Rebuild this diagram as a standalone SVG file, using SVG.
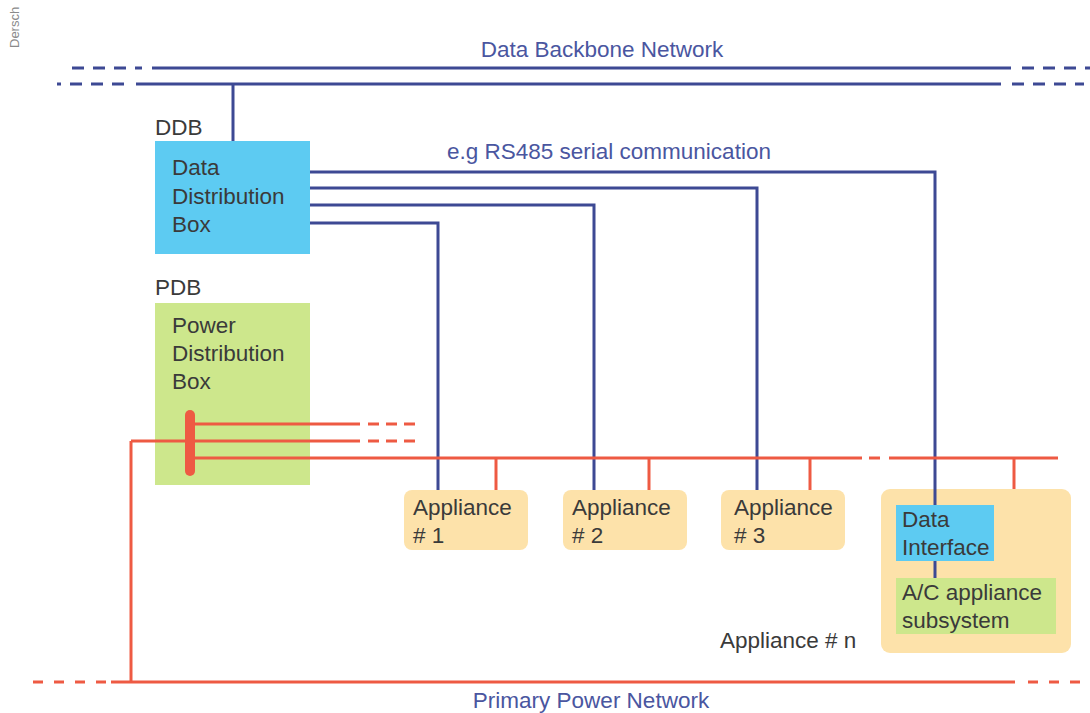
<svg xmlns="http://www.w3.org/2000/svg" width="1090" height="713" viewBox="0 0 1090 713">
  <style>
    .txt { font-family: "Liberation Sans", Arial, sans-serif; font-size: 22.5px; fill: #3a3a3a; }
    .net { font-family: "Liberation Sans", Arial, sans-serif; font-size: 22.5px; fill: #4a56a0; }
    .data { fill: none; stroke: #3d4994; stroke-width: 3; }
    .power { fill: none; stroke: #ee5a43; stroke-width: 3; }
    .dash { stroke-dasharray: 12 9; }
    .blue { fill: #5dcbf2; }
    .green { fill: #cde78c; }
    .peach { fill: #fde2aa; }
  </style>
  <rect width="1090" height="713" fill="#ffffff"/>

  <!-- author credit -->
  <text x="19" y="48" transform="rotate(-90 19 48)" font-family="Liberation Sans, Arial, sans-serif" font-size="13" fill="#8a8a8a">Dersch</text>

  <!-- network labels -->
  <text class="net" x="602" y="57" text-anchor="middle">Data Backbone Network</text>
  <text class="net" x="447" y="159">e.g RS485 serial communication</text>
  <text class="net" x="591" y="708" text-anchor="middle">Primary Power Network</text>

  <g id="ddb">
    <text class="txt" x="155" y="135">DDB</text>
    <rect class="blue" x="155" y="141" width="155" height="113"/>
    <text class="txt" x="172" y="175">Data</text>
    <text class="txt" x="172" y="204">Distribution</text>
    <text class="txt" x="172" y="232">Box</text>
  </g>

  <g id="pdb">
    <text class="txt" x="155" y="295">PDB</text>
    <rect class="green" x="155" y="303" width="155" height="182"/>
    <text class="txt" x="172" y="333">Power</text>
    <text class="txt" x="172" y="361">Distribution</text>
    <text class="txt" x="172" y="389">Box</text>
  </g>

  <g id="appliance-1">
    <rect class="peach" x="404" y="490" width="124" height="60" rx="8"/>
    <text class="txt" x="413" y="515">Appliance</text>
    <text class="txt" x="413" y="543"># 1</text>
  </g>

  <g id="appliance-2">
    <rect class="peach" x="563" y="490" width="124" height="60" rx="8"/>
    <text class="txt" x="572" y="515">Appliance</text>
    <text class="txt" x="572" y="543"># 2</text>
  </g>

  <g id="appliance-3">
    <rect class="peach" x="721" y="490" width="124" height="60" rx="8"/>
    <text class="txt" x="734" y="515">Appliance</text>
    <text class="txt" x="734" y="543"># 3</text>
  </g>

  <g id="appliance-n">
    <rect class="peach" x="881" y="489" width="190" height="164" rx="9"/>
    <rect class="blue" x="896" y="505" width="98" height="56"/>
    <text class="txt" x="902" y="527">Data</text>
    <text class="txt" x="902" y="555">Interface</text>
    <path class="data" d="M935 561 V578"/>
    <rect class="green" x="896" y="578" width="160" height="56"/>
    <text class="txt" x="902" y="600">A/C appliance</text>
    <text class="txt" x="902" y="628">subsystem</text>
    <text class="txt" x="720" y="648">Appliance # n</text>
  </g>

  <g id="connectors">
    <!-- data backbone -->
    <path class="data" d="M152 68 H1011"/>
    <path class="data dash" d="M72 68 H142"/>
    <path class="data dash" d="M1022 68 H1090"/>
    <path class="data" d="M136 84 H1001"/>
    <path class="data dash" d="M57 84 H128" style="stroke-dashoffset:8"/>
    <path class="data dash" d="M1012 84 H1084"/>
    <path class="data" d="M233 84 V141"/>

    <!-- serial links from DDB -->
    <path class="data" d="M310 172 H935 V505"/>
    <path class="data" d="M310 188 H757 V490"/>
    <path class="data" d="M310 205 H594 V490"/>
    <path class="data" d="M310 223 H438 V490"/>

    <!-- power outputs of PDB -->
    <path class="power" d="M190 424 H360"/>
    <path class="power" d="M368 424 H418" stroke-dasharray="11 7"/>
    <path class="power" d="M131 441 H360"/>
    <path class="power" d="M368 441 H418" stroke-dasharray="11 7"/>
    <path class="power" d="M190 458 H862"/>
    <path class="power" d="M869 458 H880"/>
    <path class="power" d="M889 458 H1058"/>
    <path class="power" d="M496 458 V490"/>
    <path class="power" d="M649 458 V490"/>
    <path class="power" d="M810 458 V490"/>
    <path class="power" d="M1014 458 V489"/>
    <rect x="185" y="410" width="10" height="66" rx="5" fill="#ee5a43"/>

    <!-- primary power network -->
    <path class="power" d="M131 441 V682"/>
    <path class="power" d="M111 682 H1015"/>
    <path class="power" d="M33 682 H108" stroke-dasharray="10 11"/>
    <path class="power" d="M1028 682 H1090" stroke-dasharray="10 11"/>
  </g>
</svg>
